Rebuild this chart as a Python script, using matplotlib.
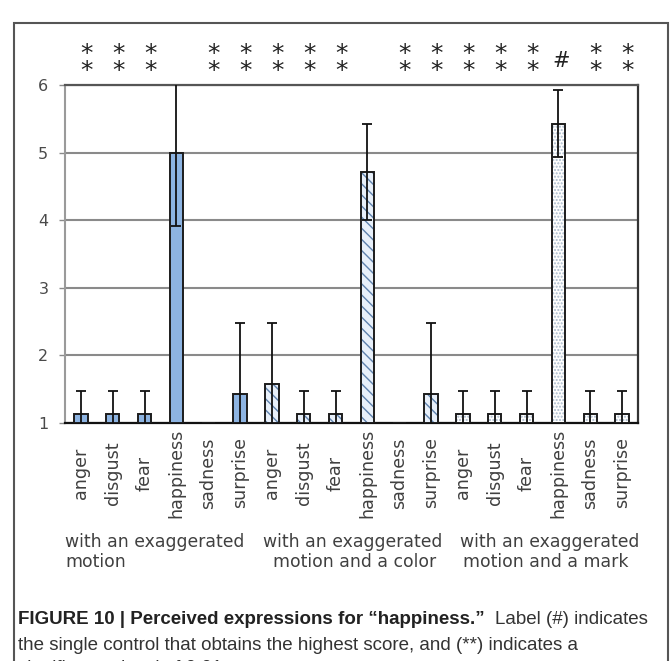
import numpy as np
import matplotlib.pyplot as plt
from matplotlib.patches import Rectangle

emotions = ['anger', 'disgust', 'fear', 'happiness', 'sadness', 'surprise']
group_lines = [('with an exaggerated', 'motion'),
               ('with an exaggerated', 'motion and a color'),
               ('with an exaggerated', 'motion and a mark')]

# mean scores and error (sd) per emotion, one list per condition
motion_mean = [1.14, 1.14, 1.14, 5.00, 1.00, 1.43]
motion_err = [0.34, 0.34, 0.34, 1.08, 0.00, 1.05]
color_mean = [1.57, 1.14, 1.14, 4.71, 1.00, 1.43]
color_err = [0.91, 0.34, 0.34, 0.71, 0.00, 1.05]
mark_mean = [1.14, 1.14, 1.14, 5.43, 1.14, 1.14]
mark_err = [0.34, 0.34, 0.34, 0.49, 0.34, 0.34]

# significance marks above each bar ('' = none)
marks = ['**', '**', '**', '', '**', '**',
         '**', '**', '**', '', '**', '**',
         '**', '**', '**', '#', '**', '**']

W, H = 672, 661
fig = plt.figure(figsize=(W / 100, H / 100), dpi=100)
ax = fig.add_axes([65 / W, 1 - 423 / H, (638 - 65) / W, (423 - 85) / H])

x1 = np.arange(0, 6)
x2 = np.arange(6, 12)
x3 = np.arange(12, 18)
bw = 0.42
edge = '#1c1c1c'

# condition 1: solid blue
ax.bar(x1, np.array(motion_mean) - 1, bw, bottom=1, color='#8db4e2',
       edgecolor=edge, linewidth=1.4, zorder=3)
# condition 2: diagonal stripes
ax.bar(x2, np.array(color_mean) - 1, bw, bottom=1, color='#e8f0fa',
       edgecolor='#5f82ad', hatch='\\\\\\', linewidth=0, zorder=3)
ax.bar(x2, np.array(color_mean) - 1, bw, bottom=1, fill=False,
       edgecolor=edge, linewidth=1.4, zorder=3)
# condition 3: fine dots
ax.bar(x3, np.array(mark_mean) - 1, bw, bottom=1, color='white',
       edgecolor='#a9bacd', hatch='.....', linewidth=0, zorder=3)
ax.bar(x3, np.array(mark_mean) - 1, bw, bottom=1, fill=False,
       edgecolor=edge, linewidth=1.4, zorder=3)

xs = np.concatenate([x1, x2, x3])
means = motion_mean + color_mean + mark_mean
errs = motion_err + color_err + mark_err
for x, m, e in zip(xs, means, errs):
    if e == 0:
        continue
    ax.errorbar(x, m, yerr=e, fmt='none', ecolor='#111111', elinewidth=1.3,
                capsize=3.5, capthick=1.3, zorder=4)

ax.set_xlim(-0.5, 17.5)
ax.set_ylim(1, 6)
ax.set_yticks([1, 2, 3, 4, 5, 6])
ax.set_xticks([])
ax.yaxis.grid(True, color='#8a8a8a', linewidth=1.5, zorder=0)
ax.tick_params(axis='y', length=4, width=1, color='#8a8a8a',
               labelsize=11.5, labelcolor='#4a4a4a', pad=8)
ax.spines['left'].set_color('#9a9a9a')
ax.spines['left'].set_linewidth(1.5)
ax.spines['bottom'].set_color('#111111')
ax.spines['bottom'].set_linewidth(1.6)
ax.spines['top'].set_color('#555555')
ax.spines['top'].set_linewidth(1.6)
ax.spines['right'].set_color('#333333')
ax.spines['right'].set_linewidth(1.6)

# category labels, rotated and centred below the axis
tr = ax.get_xaxis_transform()
for i, name in enumerate(emotions * 3):
    ax.text(i, -(473 - 423) / 338, name, rotation=90, ha='center',
            va='center', fontsize=12.6, color='#404040', transform=tr)

# group captions, two lines each
line_x = [(65, 65), (263, 273), (460, 463)]
for (l1, l2), (xa, xb) in zip(group_lines, line_x):
    fig.text(xa / W, 1 - 542 / H, l1, ha='left', va='center',
             fontsize=12.4, color='#404040')
    fig.text(xb / W, 1 - 562 / H, l2, ha='left', va='center',
             fontsize=12.4, color='#404040')

# significance marks
for i, mk in enumerate(marks):
    if mk == '**':
        ax.text(i + 0.18, 6.33, '*\n*', ha='center', va='center',
                fontsize=18, color='#222222', linespacing=0.62,
                transform=ax.transData, clip_on=False)
    elif mk == '#':
        ax.text(i + 0.08, 6.36, '#', ha='center', va='center',
                fontsize=15, color='#222222',
                transform=ax.transData, clip_on=False)

# outer frame
fig.patches.append(Rectangle((14 / W, -0.05), (668 - 14) / W,
                             1 - 23 / H + 0.05, transform=fig.transFigure,
                             fill=False, edgecolor='#555555', linewidth=1.5))

# figure caption
cap_font = 'Liberation Sans'
t1 = fig.text(18 / W, 1 - 619 / H, 'FIGURE 10 | Perceived expressions for \u201chappiness.\u201d',
              fontsize=13.5, fontweight='bold', family=cap_font, color='#222222',
              va='center', ha='left')
fig.canvas.draw()
bb = t1.get_window_extent()
fig.text(bb.x1 / W + 10 / W, 1 - 619 / H, 'Label (#) indicates',
         fontsize=13.5, family=cap_font, color='#333333', va='center', ha='left')
fig.text(18 / W, 1 - 645 / H,
         'the single control that obtains the highest score, and (**) indicates a',
         fontsize=13.5, family=cap_font, color='#333333', va='center', ha='left')
fig.text(18 / W, 1 - 669 / H, 'significance level of 0.01.',
         fontsize=13.5, family=cap_font, color='#333333', va='center', ha='left')

fig.savefig('out.png', dpi=100)
